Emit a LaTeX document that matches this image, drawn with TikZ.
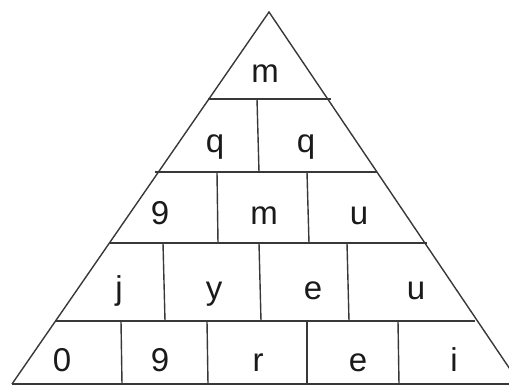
\documentclass[tikz,border=0pt]{standalone}
\usepackage{fontspec}
\setmainfont{Liberation Sans}
\definecolor{linec}{HTML}{383838}
\definecolor{textc}{HTML}{1A1A1A}
\tikzset{
  edgeline/.style={draw=linec, line width=1.4pt},
  cell/.style={anchor=base, inner sep=0pt, text=textc, font=\fontsize{33}{38}\selectfont}
}
\begin{document}
\begin{tikzpicture}[x=1pt,y=-1pt]
\useasboundingbox (0,0) rectangle (509,385);
\clip (0,0) rectangle (509,385);
% triangle corners
\coordinate (apex) at (269,12);
\coordinate (bl) at (12,384);
\coordinate (br) at (520,384);
\coordinate (be) at (509,384);
\draw[edgeline, line join=miter] (bl) -- (apex) -- (br);
\draw[edgeline] (bl) -- (be);
% horizontal row lines
\coordinate (h1l) at (208,99);  \coordinate (h1r) at (331,99);
\coordinate (h2l) at (155,172); \coordinate (h2r) at (377,172);
\coordinate (h3l) at (110,243); \coordinate (h3r) at (427,243);
\coordinate (h4l) at (55,321);  \coordinate (h4r) at (475,321);
\draw[edgeline] (h1l) -- (h1r);
\draw[edgeline] (h2l) -- (h2r);
\draw[edgeline] (h3l) -- (h3r);
\draw[edgeline] (h4l) -- (h4r);
% dividers row 2
\coordinate (d21t) at (257,99); \coordinate (d21b) at (259,172);
\draw[edgeline] (d21t) -- (d21b);
% dividers row 3
\coordinate (d31t) at (217,172); \coordinate (d31b) at (218,243);
\coordinate (d32t) at (307,172); \coordinate (d32b) at (309,243);
\draw[edgeline] (d31t) -- (d31b);
\draw[edgeline] (d32t) -- (d32b);
% dividers row 4
\coordinate (d41t) at (163,243); \coordinate (d41b) at (165,321);
\coordinate (d42t) at (259,243); \coordinate (d42b) at (261,321);
\coordinate (d43t) at (347,243); \coordinate (d43b) at (349,321);
\draw[edgeline] (d41t) -- (d41b);
\draw[edgeline] (d42t) -- (d42b);
\draw[edgeline] (d43t) -- (d43b);
% dividers row 5
\coordinate (d51t) at (121,321); \coordinate (d51b) at (122,384);
\coordinate (d52t) at (207,321); \coordinate (d52b) at (208,384);
\coordinate (d53t) at (307,321); \coordinate (d53b) at (307,384);
\coordinate (d54t) at (398,321); \coordinate (d54b) at (399,384);
\draw[edgeline] (d51t) -- (d51b);
\draw[edgeline] (d52t) -- (d52b);
\draw[edgeline] (d53t) -- (d53b);
\draw[edgeline] (d54t) -- (d54b);
% labels
\node[cell] (r1a) at (265,83) {m};
\node[cell] (r2a) at (215,153) {q};
\node[cell] (r2b) at (306,153) {q};
\node[cell] (r3a) at (160,224) {9};
\node[cell] (r3b) at (264,224) {m};
\node[cell] (r3c) at (359,224) {u};
\node[cell] (r4a) at (119,299) {j};
\node[cell] (r4b) at (214,299) {y};
\node[cell] (r4c) at (313,299) {e};
\node[cell] (r4d) at (416,299) {u};
\node[cell] (r5a) at (62,371) {0};
\node[cell] (r5b) at (160,371) {9};
\node[cell] (r5c) at (258,371) {r};
\node[cell] (r5d) at (358,371) {e};
\node[cell] (r5e) at (454,371) {i};
\end{tikzpicture}
\end{document}
